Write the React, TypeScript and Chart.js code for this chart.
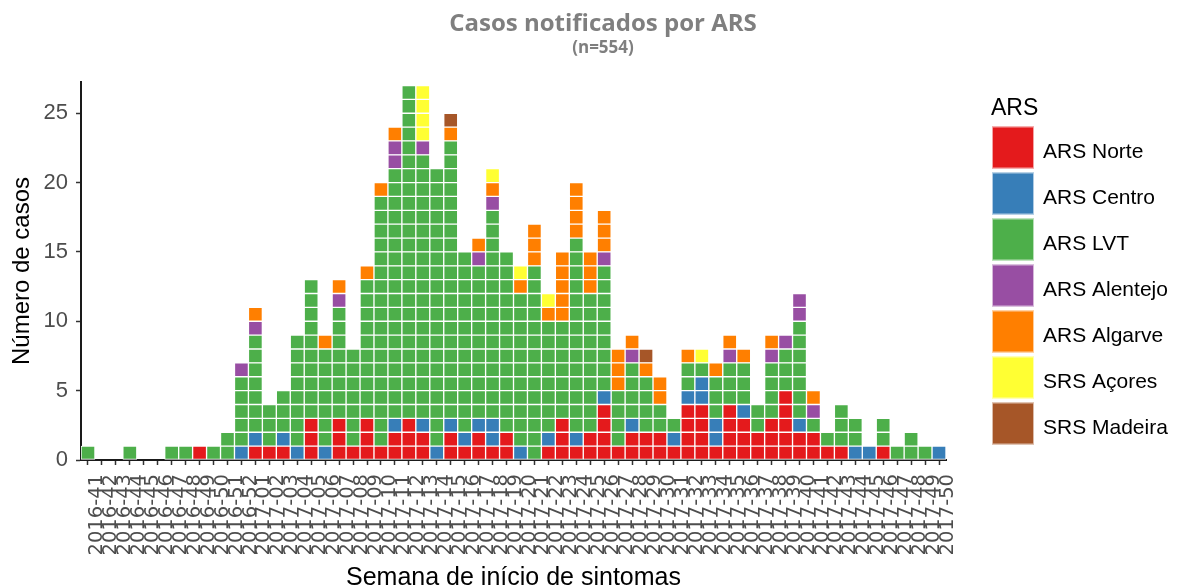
import React, { useEffect, useRef } from "react";
import { Chart, registerables } from "chart.js";

Chart.register(...registerables);

// ---- Data ----
const titleText = "Casos notificados por ARS";
const subtitleText = "(n=554)";
const xTitle = "Semana de início de sintomas";
const yTitle = "Número de casos";
const legendTitle = "ARS";

const weeks = [
  "2016-41", "2016-42", "2016-43", "2016-44", "2016-45", "2016-46", "2016-47", "2016-48",
  "2016-49", "2016-50", "2016-51", "2016-52",
  "2017-01", "2017-02", "2017-03", "2017-04", "2017-05", "2017-06", "2017-07", "2017-08",
  "2017-09", "2017-10", "2017-11", "2017-12", "2017-13", "2017-14", "2017-15", "2017-16",
  "2017-17", "2017-18", "2017-19", "2017-20", "2017-21", "2017-22", "2017-23", "2017-24",
  "2017-25", "2017-26", "2017-27", "2017-28", "2017-29", "2017-30", "2017-31", "2017-32",
  "2017-33", "2017-34", "2017-35", "2017-36", "2017-37", "2017-38", "2017-39", "2017-40",
  "2017-41", "2017-42", "2017-43", "2017-44", "2017-45", "2017-46", "2017-47", "2017-48",
  "2017-49", "2017-50",
];

const regions = ["ARS Norte", "ARS Centro", "ARS LVT", "ARS Alentejo", "ARS Algarve", "SRS Açores", "SRS Madeira"];
const regionCodes = ["N", "C", "L", "A", "G", "Y", "M"];
const regionColors = ["#E41A1C", "#377EB8", "#4DAF4A", "#984EA3", "#FF7F00", "#FFFF33", "#A65628"];

// Cases per week, stacked bottom-to-top, as runs of "<count><region code>"
const weekStacks = [
  "1L", "", "", "1L", "", "", "1L", "1L",
  "1N", "1L", "2L", "1C 5L 1A",
  "1N 1C 7L 1A 1G", "1N 3L", "1N 1C 3L", "1C 8L", "3N 10L", "1C 7L 1G", "3N 8L 1A 1G", "1N 7L",
  "3N 10L 1G", "1N 18L 1G", "2N 1C 18L 2A 1G", "3N 24L", "2N 1C 19L 1A 4Y", "1C 20L", "2N 1C 20L 1G 1M", "1N 1C 13L",
  "2N 1C 11L 1A 1G", "1N 2C 15L 1A 1G 1Y", "2N 13L", "1C 11L 1G 1Y", "14L 3G", "1N 1C 8L 1G 1Y", "3N 7L 5G", "1N 1C 14L 4G",
  "2N 10L 3G", "4N 1C 9L 1A 3G", "1N 4L 3G", "2N 1C 4L 1A 1G", "2N 4L 1G 1M", "2N 2L 2G", "1N 1C 1L", "4N 1C 2L 1G",
  "4N 2C 1L 1Y", "1N 2C 3L 1G", "4N 3L 1A 1G", "3N 1C 3L 1G", "2N 2L", "3N 4L 1A 1G", "5N 3L 1A", "2N 1C 7L 2A",
  "2N 1L 1A 1G", "1N 1L", "1N 3L", "1C 2L", "1C", "1N 2L", "1L", "2L",
  "1L", "1C",
];

const yTicks = [0, 5, 10, 15, 20, 25];

// ---- Helpers ----
function expandStack(s: string): string[] {
  const out: string[] = [];
  s.split(" ").filter(Boolean).forEach((run) => {
    const n = parseInt(run, 10);
    const code = run.replace(/[0-9]/g, "");
    for (let i = 0; i < n; i++) out.push(code);
  });
  return out;
}

const AXIS_FONT = "'Liberation Sans', Arial, sans-serif";
const TICK_FONT = "'DejaVu Sans', 'Liberation Sans', sans-serif";

export default function App() {
  const canvasRef = useRef<HTMLCanvasElement | null>(null);

  useEffect(() => {
    const canvas = canvasRef.current;
    if (!canvas) return;
    const cells = weekStacks.map(expandStack);
    const maxH = Math.max(...cells.map((c) => c.length));
    const colorOf = (code: string) => regionColors[regionCodes.indexOf(code)];

    const datasets = [];
    for (let k = 0; k < maxH; k++) {
      datasets.push({
        label: "layer " + k,
        data: cells.map((c) => (c.length > k ? 1 : null)),
        backgroundColor: cells.map((c) => (c.length > k ? colorOf(c[k]) : "rgba(0,0,0,0)")),
        borderColor: "#ffffff",
        borderWidth: 1,
        borderSkipped: false,
        barPercentage: 1,
        categoryPercentage: 1,
        stack: "s",
      });
    }

    const overlay = {
      id: "overlay",
      afterDraw(chart: any) {
        const ctx = chart.ctx as CanvasRenderingContext2D;
        ctx.save();
        ctx.fillStyle = "#7f7f7f";
        ctx.textAlign = "center";
        ctx.textBaseline = "alphabetic";
        ctx.font = "bold 24px 'Open Sans', sans-serif";
        ctx.fillText(titleText, 603, 31);
        ctx.font = "bold 17px 'Open Sans', sans-serif";
        ctx.fillText(subtitleText, 603, 53);

        ctx.textAlign = "left";
        ctx.fillStyle = "#000000";
        ctx.font = "23px " + AXIS_FONT;
        ctx.fillText(legendTitle, 991, 115);
        regions.forEach((r, k) => {
          const y = 126.5 + 46 * k;
          ctx.fillStyle = regionColors[k];
          ctx.fillRect(992, y, 42, 42);
          ctx.strokeStyle = "rgba(255,255,255,0.6)";
          ctx.lineWidth = 1;
          ctx.strokeRect(992.5, y + 0.5, 41, 41);
          ctx.fillStyle = "#000000";
          ctx.font = "21px " + AXIS_FONT;
          ctx.fillText(r, 1043, y + 31.5);
        });
        ctx.restore();
      },
    };

    const chart = new Chart(canvas, {
      type: "bar",
      data: { labels: weeks, datasets: datasets as any },
      plugins: [overlay],
      options: {
        animation: false,
        responsive: false,
        events: [],
        layout: { padding: { top: 82, right: 236, bottom: 0, left: 0 } },
        plugins: {
          legend: { display: false },
          tooltip: { enabled: false },
          title: { display: false },
        },
        scales: {
          x: {
            type: "category",
            stacked: true,
            offset: true,
            z: 1,
            grid: {
              display: true,
              drawOnChartArea: false,
              drawTicks: true,
              offset: false,
              tickLength: 5,
              tickColor: "#333333",
              tickWidth: 1.5,
            },
            border: { display: true, color: "#1a1a1a", width: 2 },
            ticks: {
              autoSkip: false,
              minRotation: 90,
              maxRotation: 90,
              labelOffset: 9,
              padding: 9,
              color: "#4d4d4d",
              font: { family: TICK_FONT, size: 19.5 },
            },
            title: {
              display: true,
              text: xTitle,
              color: "#000000",
              font: { family: AXIS_FONT, size: 25, lineHeight: 0.8 },
              padding: { top: 0, bottom: 0 },
            },
            afterFit: (s: any) => {
              s.height = 128;
            },
          } as any,
          y: {
            stacked: true,
            min: 0,
            max: 27.25,
            z: 1,
            grid: {
              display: true,
              drawOnChartArea: false,
              drawTicks: true,
              tickLength: 5,
              tickColor: "#333333",
              tickWidth: 1.5,
            },
            border: { display: true, color: "#1a1a1a", width: 2 },
            afterBuildTicks: (s: any) => {
              s.ticks = yTicks.map((v) => ({ value: v }));
            },
            ticks: {
              includeBounds: false,
              stepSize: 5,
              padding: 8,
              color: "#4d4d4d",
              font: { family: AXIS_FONT, size: 22 },
            },
            title: {
              display: true,
              text: yTitle,
              color: "#000000",
              font: { family: AXIS_FONT, size: 24, lineHeight: 1 },
              padding: { top: 10, bottom: 0 },
            },
            afterFit: (s: any) => {
              s.width = 81;
            },
          } as any,
        },
      },
    });
    return () => chart.destroy();
  }, []);

  return (
    <div style={{ position: "absolute", left: 0, top: 0, width: 1182, height: 588, background: "#ffffff" }}>
      <canvas ref={canvasRef} width={1182} height={588} style={{ display: "block" }} />
    </div>
  );
}
